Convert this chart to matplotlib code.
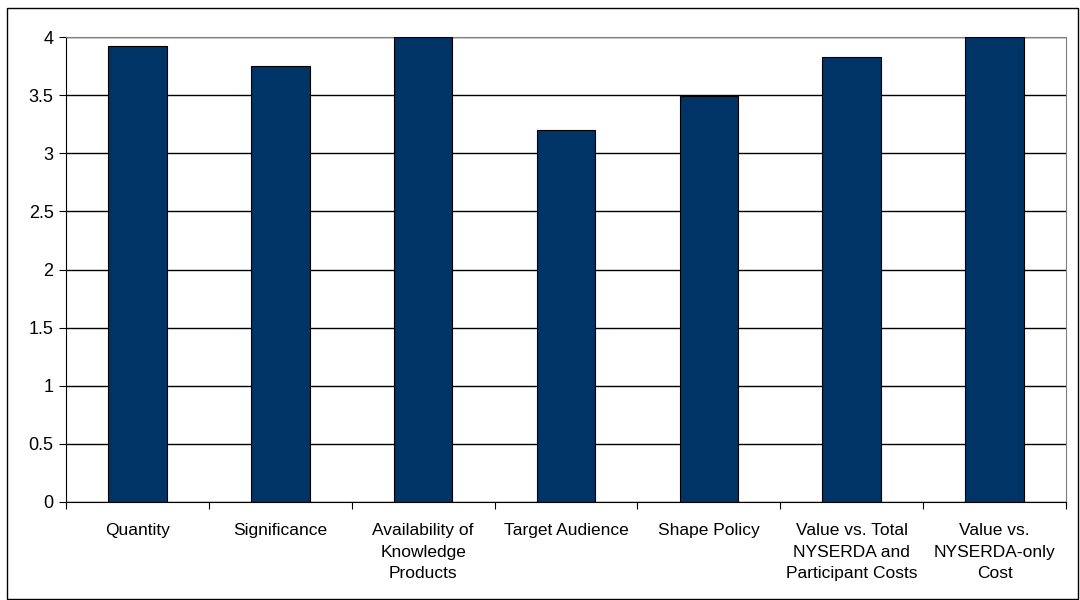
import numpy as np
from matplotlib import pyplot as plt
from matplotlib.patches import Rectangle

plt.rcParams['font.family'] = ['Liberation Sans', 'DejaVu Sans']

categories = ["Quantity", "Significance", "Availability of\nKnowledge\nProducts",
              "Target Audience", "Shape Policy",
              "Value vs. Total\nNYSERDA and\nParticipant Costs",
              "Value vs.\nNYSERDA-only\nCost"]
scores = [3.92, 3.75, 4.0, 3.20, 3.49, 3.83, 4.0]
y_ticks = [0, 0.5, 1, 1.5, 2, 2.5, 3, 3.5, 4]
y_tick_labels = ["0", "0.5", "1", "1.5", "2", "2.5", "3", "3.5", "4"]

fig = plt.figure(figsize=(10.8, 6), dpi=100)
ax = fig.add_axes([66 / 1080, 1 - 502 / 600, 1000 / 1080, 465 / 600])

# outer chart border
fig.patches.append(Rectangle((7 / 1080, 1 / 600), 1071 / 1080, 591 / 600,
                             transform=fig.transFigure, fill=False,
                             edgecolor="black", linewidth=1.0))

x = np.arange(len(categories))
ax.set_axisbelow(True)
ax.yaxis.grid(True, color="black", linewidth=1.0)
ax.bar(x, scores, width=0.41, color="#003366", edgecolor="black", linewidth=0.8, zorder=3)

ax.set_xlim(-0.5, len(categories) - 0.5)
ax.set_ylim(0, 4)
ax.set_yticks(y_ticks)
ax.set_yticklabels(y_tick_labels, fontsize=13)

# category labels centered, ticks on boundaries
ax.set_xticks(np.arange(len(categories) + 1) - 0.5)
ax.set_xticklabels([])
ax.tick_params(axis="x", length=5, color="black")
ax.tick_params(axis="y", length=5, color="black", pad=4)
for i, label in enumerate(categories):
    ax.text(i, -0.18, label, ha="center", va="top", fontsize=12.5,
            linespacing=1.55, transform=ax.transData)

ax.spines["left"].set_color("black")
ax.spines["bottom"].set_color("black")
ax.spines["top"].set_color("#808080")
ax.spines["right"].set_color("#808080")

fig.savefig("out.png", dpi=100)
